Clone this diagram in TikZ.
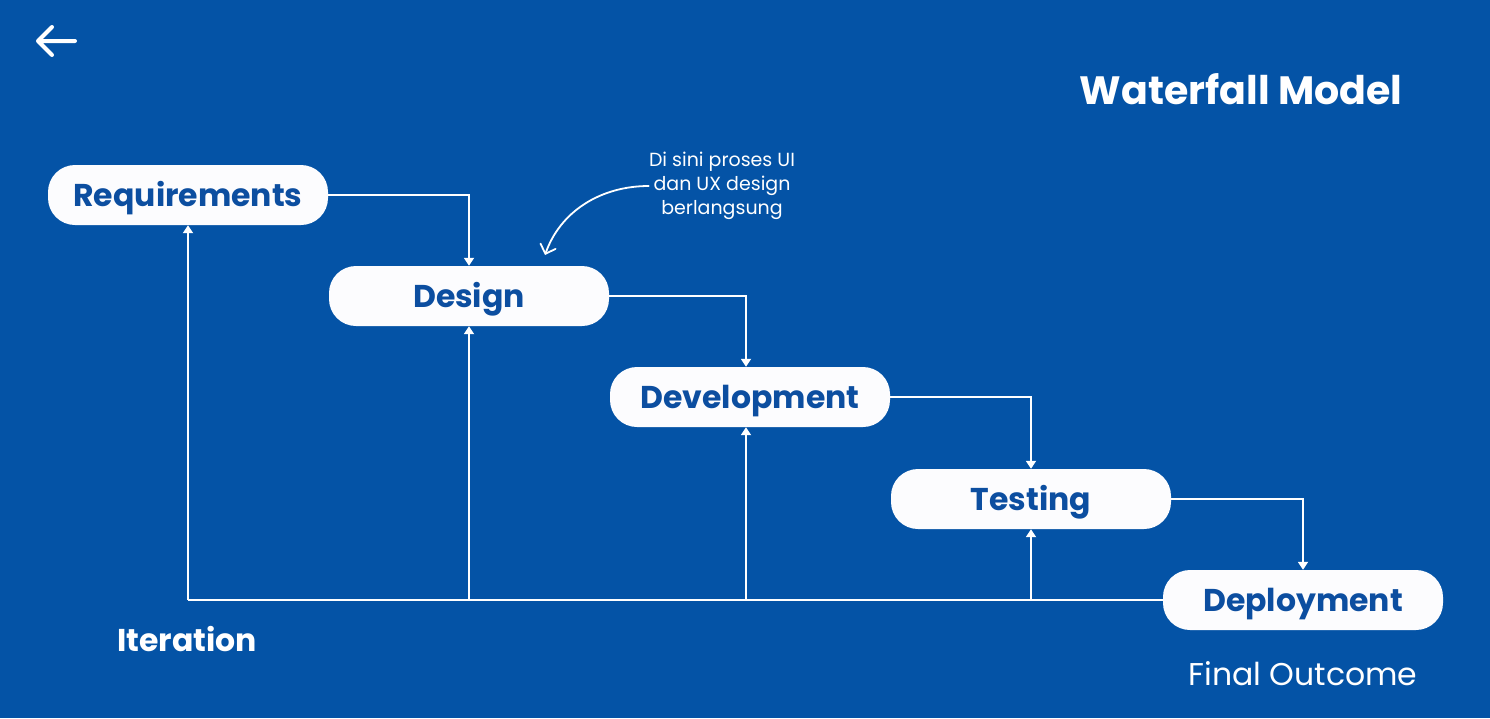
\documentclass[tikz,border=0pt]{standalone}
\usepackage{fontspec}
\setmainfont{Poppins}
\usetikzlibrary{arrows.meta,calc}
\definecolor{bgblue}{RGB}{4,83,166}
\definecolor{inkblue}{RGB}{12,78,160}
\definecolor{pill}{RGB}{252,252,254}
\begin{document}
\begin{tikzpicture}[x=1pt,y=-1pt,
  stage/.style={draw=none,fill=pill,rounded corners=27pt,minimum width=280pt,
    minimum height=60pt,inner sep=0pt,text height=24pt,text depth=2pt,
    text=inkblue,font=\fontsize{31.5}{34}\selectfont\bfseries},
  flow/.style={draw=white,line width=1.8pt,-{Triangle[width=10pt,length=8pt]}},
  link/.style={draw=white,line width=1.8pt},
  caption/.style={text=white,inner sep=0pt}]
  % background
  \fill[bgblue] (0,0) rectangle (1490,718);
  \useasboundingbox (0,0) rectangle (1490,718);

  % back arrow
  \draw[white,line width=4pt,line cap=round,line join=round]
    (38,41) -- (75,41) (52,27) -- (38,41) -- (52,55);

  % title
  \node[caption,font=\fontsize{39.5}{44}\selectfont\bfseries] (title) at (1241,89) {Waterfall Model};

  % stages
  \node[stage] (req) at (188,195) {Requirements};
  \node[stage] (des) at (469,296) {Design};
  \node[stage] (dev) at (750,397) {Development};
  \node[stage] (tst) at (1031,499) {Testing};
  \node[stage] (dep) at (1303,600) {Deployment};

  % forward flow
  \draw[flow] (req.east) -| (des.north);
  \draw[flow] (des.east) -| ([xshift=-4pt]dev.north);
  \draw[flow] (dev.east) -| (tst.north);
  \draw[flow] (tst.east) -| (dep.north);

  % iteration feedback
  \coordinate (b1) at (req.south |- dep.west);
  \coordinate (b2) at (des.south |- dep.west);
  \coordinate (b3) at ([xshift=-4pt]dev.south |- dep.west);
  \coordinate (b4) at (tst.south |- dep.west);
  \draw[link] (dep.west) -- (b1);
  \draw[flow] (b1) -- (req.south);
  \draw[flow] (b2) -- (des.south);
  \draw[flow] (b3) -- ([xshift=-4pt]dev.south);
  \draw[flow] (b4) -- (tst.south);

  % labels
  \node[caption,font=\fontsize{31.5}{34}\selectfont\bfseries] (iter) at (187,639) {Iteration};
  \node[caption,font=\fontsize{31.5}{34}\selectfont] (final) at (1303,674) {Final Outcome};

  % note
  \node[caption,align=center,font=\fontsize{19}{24}\selectfont] (note) at (722,186)
    {Di sini proses UI\\dan UX design\\berlangsung};
  \draw[white,line width=1.8pt,line cap=round,-{Straight Barb[length=8pt,width=16pt,line cap=round]}]
    (note.west) .. controls (600,186) and (560,212) .. (545,255);
\end{tikzpicture}
\end{document}
